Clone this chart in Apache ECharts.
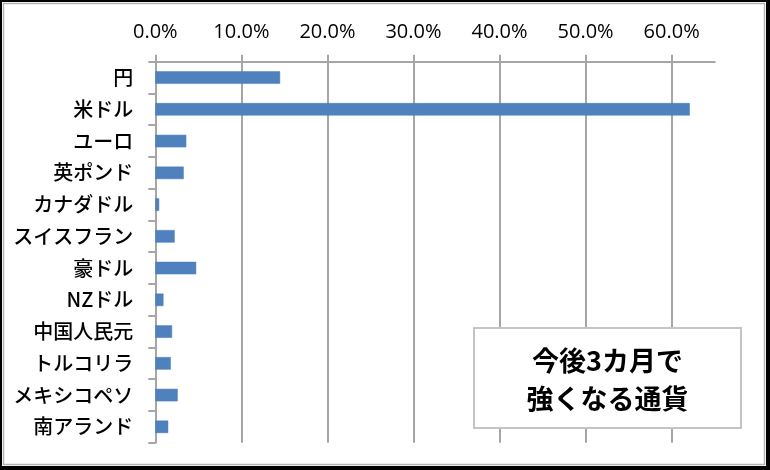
<!DOCTYPE html>
<html lang="ja">
<head>
<meta charset="UTF-8">
<title>今後3カ月で強くなる通貨</title>
<script src="https://cdn.jsdelivr.net/npm/echarts@6/dist/echarts.min.js"></script>
<style>
html, body { margin: 0; padding: 0; background: #fff; }
#chart { width: 770px; height: 470px; }
</style>
</head>
<body>
<div id="chart"></div>
<script>
// 通貨と回答比率（%）
const currencies = ['円', '米ドル', 'ユーロ', '英ポンド', 'カナダドル', 'スイスフラン', '豪ドル', 'NZドル', '中国人民元', 'トルコリラ', 'メキシコペソ', '南アランド'];
const shares = [14.5, 62.1, 3.6, 3.3, 0.45, 2.25, 4.75, 0.95, 1.95, 1.8, 2.6, 1.5];
const tickValues = [0, 10, 20, 30, 40, 50, 60];
const boxLines = ['今後3カ月で', '強くなる通貨'];

const chart = echarts.init(document.getElementById('chart'));
chart.setOption({
  animation: false,
  grid: {
    left: 155.3,
    right: 55.3,
    top: 61.7,
    bottom: 27.3,
    outerBoundsMode: 'none'
  },
  xAxis: {
    type: 'value',
    position: 'top',
    min: 0,
    max: 65,
    interval: 10,
    axisLine: {
      show: true,
      lineStyle: { color: '#a6a6a6', width: 2 }
    },
    axisTick: {
      show: true,
      inside: false,
      length: 7,
      customValues: tickValues,
      lineStyle: { color: '#a6a6a6', width: 2 }
    },
    axisLabel: {
      customValues: tickValues,
      margin: 19,
      fontFamily: 'Open Sans',
      fontSize: 20,
      color: '#000',
      formatter: v => v.toFixed(1) + '%'
    },
    splitLine: {
      show: true,
      lineStyle: { color: '#a6a6a6', width: 2 }
    }
  },
  yAxis: {
    type: 'category',
    inverse: true,
    data: currencies,
    axisLine: {
      show: true,
      lineStyle: { color: '#a6a6a6', width: 2 }
    },
    axisTick: {
      show: true,
      inside: false,
      length: 7,
      lineStyle: { color: '#a6a6a6', width: 2 }
    },
    axisLabel: {
      margin: 22,
      fontFamily: 'Noto Sans CJK JP',
      fontWeight: 500,
      fontSize: 20,
      color: '#000'
    },
    splitLine: { show: false }
  },
  series: [{
    type: 'bar',
    data: shares,
    barWidth: 12.5,
    itemStyle: {
      color: '#4f81bd',
      borderColor: '#4a7dba',
      borderWidth: 0.5
    }
  }],
  graphic: [
    { type: 'rect', z: -10, shape: { x: 0, y: 0, width: 770, height: 470 }, style: { fill: '#000' } },
    { type: 'rect', z: -9, shape: { x: 2, y: 2, width: 764, height: 464 }, style: { fill: '#fff' } },
    { type: 'rect', z: -8, shape: { x: 3.5, y: 3.5, width: 761, height: 461 }, style: { fill: '#fff', stroke: '#b4b4b4', lineWidth: 1.5 } },
    { type: 'rect', z: 100, shape: { x: 474, y: 328, width: 267, height: 100 }, style: { fill: '#fff', stroke: '#c4c4c4', lineWidth: 2 } },
    { type: 'text', z: 101, x: 607.5, y: 361, style: { text: boxLines[0], fontFamily: 'Noto Sans CJK JP', fontWeight: 'bold', fontSize: 27, fill: '#000', align: 'center', verticalAlign: 'middle' } },
    { type: 'text', z: 101, x: 607.5, y: 399, style: { text: boxLines[1], fontFamily: 'Noto Sans CJK JP', fontWeight: 'bold', fontSize: 27, fill: '#000', align: 'center', verticalAlign: 'middle' } }
  ]
});
</script>
</body>
</html>
